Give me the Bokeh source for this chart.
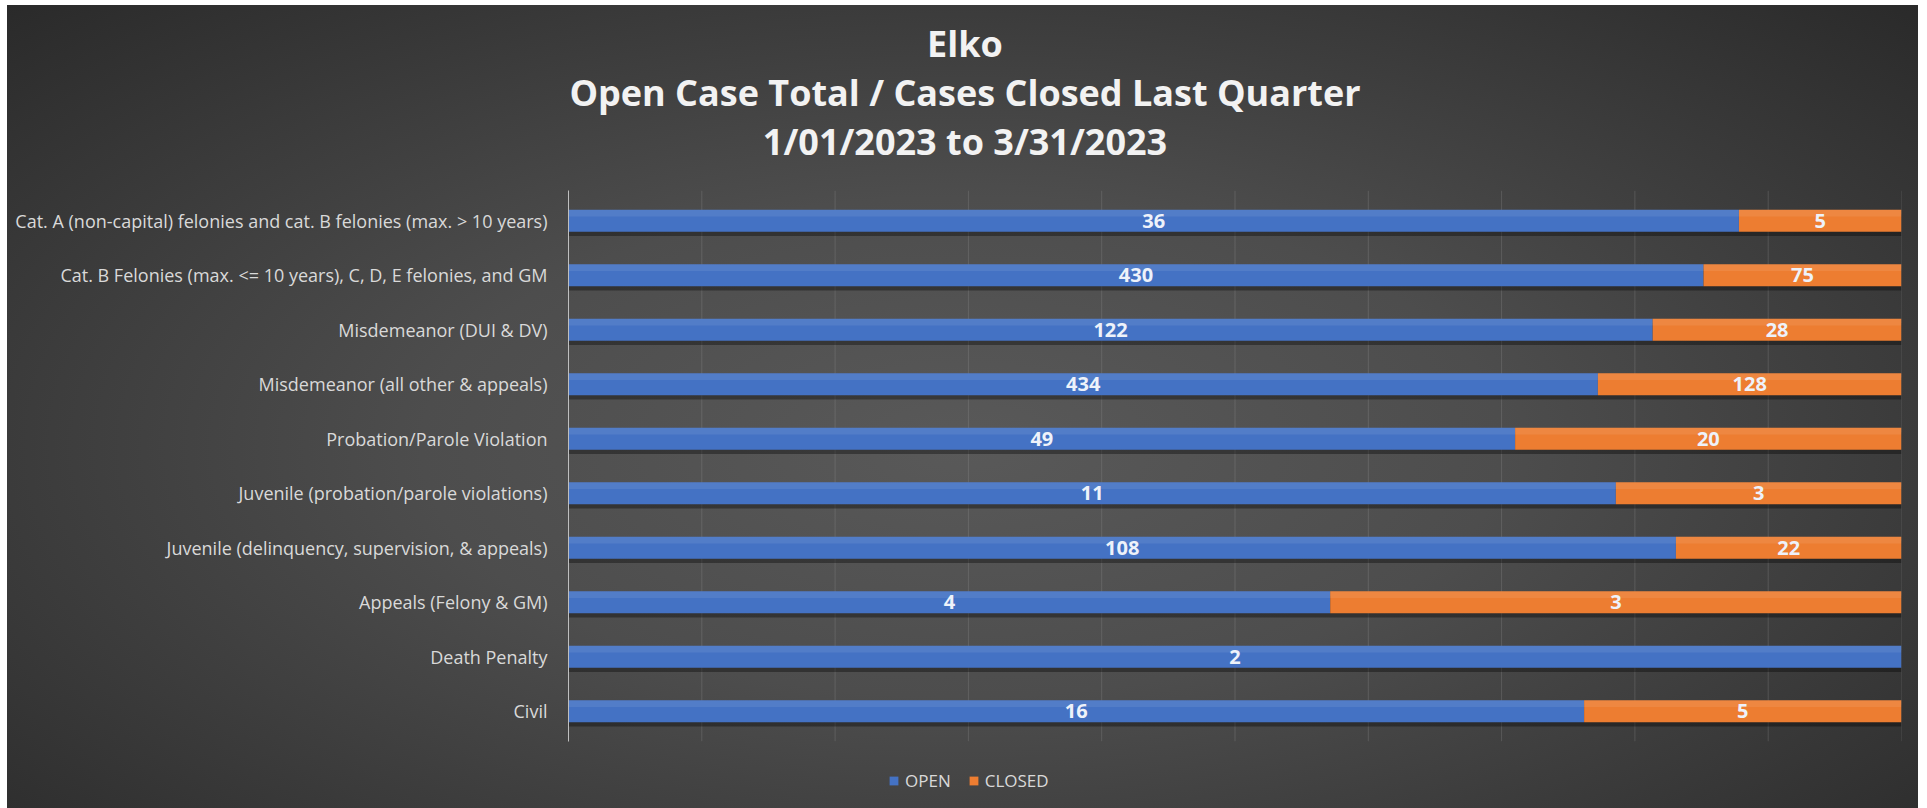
from bokeh.plotting import figure
from bokeh.models import (ColumnDataSource, Range1d, FixedTicker,
                          Label, Legend, LegendItem)
from bokeh.transform import dodge
from bokeh.core.properties import value
from bokeh.embed import file_html
from bokeh.resources import INLINE

# ---------------- data ----------------
categories = [
    "Cat. A (non-capital) felonies and cat. B felonies (max. > 10 years)",
    "Cat. B Felonies (max. <= 10 years), C, D, E felonies, and GM",
    "Misdemeanor (DUI & DV)",
    "Misdemeanor (all other & appeals)",
    "Probation/Parole Violation",
    "Juvenile (probation/parole violations)",
    "Juvenile (delinquency, supervision, & appeals)",
    "Appeals (Felony & GM)",
    "Death Penalty",
    "Civil",
]
open_cases = [36, 430, 122, 434, 49, 11, 108, 4, 2, 16]
closed_cases = [5, 75, 28, 128, 20, 3, 22, 3, 0, 5]
series = ["OPEN", "CLOSED"]
series_colors = ["#4472C4", "#ED7D31"]
title_lines = ["Elko", "Open Case Total / Cases Closed Last Quarter",
               "1/01/2023 to 3/31/2023"]
grid_ticks = [0.0, 0.1, 0.2, 0.3, 0.4, 0.5, 0.6, 0.7, 0.8, 0.9, 1.0]

# ---------------- derived: 100% shares, row positions (first category on top) --------
n = len(categories)
row_pos = [n - 1 - i for i in range(n)]
totals = [o + c for o, c in zip(open_cases, closed_cases)]
open_share = [o / t for o, t in zip(open_cases, totals)]
closed_share = [c / t for c, t in zip(closed_cases, totals)]

src = ColumnDataSource(dict(y=row_pos, OPEN=open_share, CLOSED=closed_share,
                            full=[1.0] * n))

lab_x, lab_y, lab_t = [], [], []
for yp, o, c, os_, cs_ in zip(row_pos, open_cases, closed_cases, open_share, closed_share):
    if o > 0:
        lab_x.append(os_ / 2); lab_y.append(yp); lab_t.append(str(o))
    if c > 0:
        lab_x.append(os_ + cs_ / 2); lab_y.append(yp); lab_t.append(str(c))
lab_src = ColumnDataSource(dict(x=lab_x, y=lab_y, t=lab_t))

# ---------------- layout ----------------
W, H = 1911, 803
FL, FR = 561, 17
band_top, band_bottom = 188, 733          # pixel rows of the category band (figure coords)
px_per_row = (band_bottom - band_top) / n
y_lo = -0.5 - (H - band_bottom) / px_per_row
y_hi = (n - 0.5) + band_top / px_per_row

p = figure(width=W, height=H, output_backend="svg", toolbar_location=None,
           x_range=Range1d(0, 1), y_range=Range1d(y_lo, y_hi),
           x_axis_location=None,
           min_border_left=FL, min_border_right=FR,
           min_border_top=0, min_border_bottom=0)
p.margin = (5, 0, 0, 7)
p.styles = {"background": "radial-gradient(ellipse farthest-corner at 50% 55%, "
                          "#595959 0%, #4d4d4d 40%, #2a2a2a 100%)"}
p.background_fill_color = None
p.border_fill_color = None
p.outline_line_color = None
p.xgrid.visible = False
p.ygrid.visible = False

# vertical gridlines limited to the category band
p.segment(x0=grid_ticks, x1=grid_ticks, y0=-0.55, y1=n - 0.45,
          line_color="#a0a0a0", line_alpha=0.25, line_width=1)

# soft shadow under bars
p.hbar(y=dodge("y", -0.08), left=0, right="full", height=0.4,
       source=src, fill_color="black", fill_alpha=0.35, line_color=None)

rs = p.hbar_stack(series, y="y", height=0.4, fill_color=series_colors,
                  line_color=None, source=src)

# light sheen on the upper part of each bar
p.hbar(y=dodge("y", 0.14), left=0, right="full", height=0.12,
       source=src, fill_color="white", fill_alpha=0.08, line_color=None)

p.text(x="x", y="y", text="t", source=lab_src, text_align="center",
       text_baseline="middle", text_font=value("Open Sans"),
       text_font_size="20px", text_font_style="bold", text_color="#eef2fa")

# category axis
ya = p.yaxis[0]
ya.ticker = FixedTicker(ticks=row_pos)
ya.major_label_overrides = {yp: c for yp, c in zip(row_pos, categories)}
ya.bounds = (-0.55, n - 0.45)
ya.axis_line_color = "#bfbfbf"
ya.axis_line_width = 1
ya.major_tick_line_color = None
ya.minor_tick_line_color = None
ya.major_label_text_font = "Open Sans"
ya.major_label_text_font_size = "18px"
ya.major_label_text_color = "#d9d9d9"
ya.major_label_standoff = 15

# title: three centred lines (screen units from the frame's bottom-left)
cx = W / 2 - FL + 2
for line, page_y in zip(title_lines, [43, 92, 141]):
    p.add_layout(Label(x=cx, y=H - (page_y - 5), x_units="screen", y_units="screen",
                       text=line, text_align="center", text_baseline="middle",
                       text_font="Open Sans", text_font_style="bold",
                       text_font_size="36px", text_color="#f2f2f2"))

legend = Legend(items=[LegendItem(label=s, renderers=[r]) for s, r in zip(series, rs)],
                orientation="horizontal", location=(320, 16),
                glyph_width=11, glyph_height=11, label_standoff=6, spacing=17,
                label_height=16, padding=0, margin=0, label_text_font="Open Sans",
                label_text_font_size="17px", label_text_color="#d9d9d9",
                background_fill_alpha=0, border_line_alpha=0)
p.add_layout(legend, "center")

open("out.html", "w").write(file_html(p, INLINE))
